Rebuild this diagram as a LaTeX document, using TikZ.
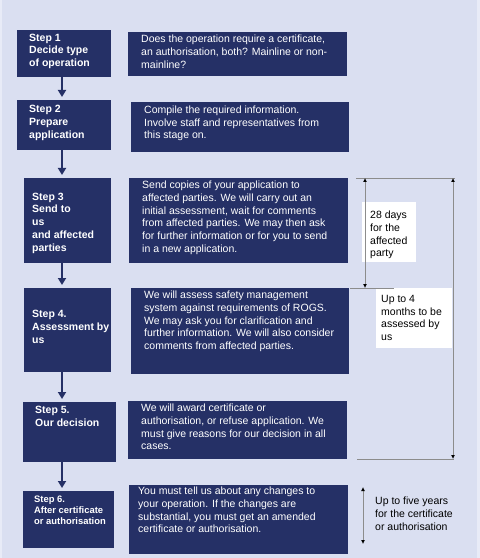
\documentclass[tikz,border=0pt]{standalone}
\usepackage{fontspec}
\setmainfont{Liberation Sans}
\usetikzlibrary{arrows.meta}
\definecolor{navy}{HTML}{253066}
\definecolor{backdrop}{HTML}{DADFF1}
\definecolor{rim}{HTML}{E8EBF7}
\definecolor{rulegrey}{HTML}{8C8C8C}
\tikzset{
  box/.style={fill=navy, inner sep=0pt, anchor=north west},
  steptext/.style={text=white, font=\fontsize{10.5bp}{12.8bp}\selectfont\bfseries, inner sep=0pt, anchor=north west, align=left},
  smallstep/.style={steptext, font=\fontsize{9.4bp}{11bp}\selectfont\bfseries},
  desctext/.style={text=white, font=\fontsize{10.5bp}{12.7bp}\selectfont, inner sep=0pt, anchor=north west, align=left},
  notebox/.style={fill=white, inner sep=0pt, anchor=north west},
  notetext/.style={text=black, font=\fontsize{10.5bp}{12.7bp}\selectfont, inner sep=0pt, anchor=north west, align=left},
  flow/.style={navy, line width=2.5bp, -{Triangle[length=7bp,width=8bp]}, shorten >=3bp},
  span/.style={rulegrey, line width=0.8bp, {Latex[length=4bp,width=4bp,color=black]}-{Latex[length=4bp,width=4bp,color=black]}},
  tick/.style={rulegrey, line width=0.8bp}
}

\begin{document}
\begin{tikzpicture}[x=1bp, y=-1bp]
		%%%%% START %%%%%
		
		\fill[rim] (0, 0) rectangle (480, 558);
		\fill[backdrop] (2, 0) rectangle (477, 558);
		\useasboundingbox (0, 0) rectangle (480, 558);
		
		% step boxes
		\node[box, minimum width=94bp, minimum height=47bp] (s1) at (17, 30) {};
		\node[box, minimum width=94bp, minimum height=50bp] (s2) at (17, 100) {};
		\node[box, minimum width=87bp, minimum height=85bp] (s3) at (24, 178) {};
		\node[box, minimum width=87bp, minimum height=84bp] (s4) at (24, 288) {};
		\node[box, minimum width=93bp, minimum height=60bp] (s5) at (23, 402) {};
		\node[box, minimum width=91bp, minimum height=57bp] (s6) at (23, 491) {};
		
		\node[steptext] (s1t) at (29, 33.5) {Step 1\\Decide type\\of operation};
		\node[steptext] (s2t) at (29, 105) {Step 2\\Prepare\\application};
		\node[steptext] (s3t) at (32, 192.5) {Step 3\\Send to\\us\\and affected\\parties};
		\node[steptext] (s4t) at (32, 310) {Step 4.\\Assessment by\\us};
		\node[steptext] (s5t) at (35, 406) {Step 5.\\Our decision};
		\node[smallstep] (s6t) at (34, 496) {Step 6.\\After certificate\\or authorisation};
		
		% description boxes
		\node[box, minimum width=219bp, minimum height=44bp] (d1) at (128, 32) {};
		\node[box, minimum width=218bp, minimum height=50bp] (d2) at (131, 102) {};
		\node[box, minimum width=219bp, minimum height=85bp] (d3) at (129, 178) {};
		\node[box, minimum width=218bp, minimum height=86bp] (d4) at (131, 288) {};
		\node[box, minimum width=219bp, minimum height=58bp] (d5) at (128, 401) {};
		\node[box, minimum width=219bp, minimum height=69bp] (d6) at (129, 485) {};
		
		\node[desctext] (d1t) at (141, 35) {Does the operation require a certificate,\\an authorisation, both? Mainline or non-\\mainline?};
		\node[desctext] (d2t) at (144, 105.5) {Compile the required information.\\Involve staff and representatives from\\this stage on.};
		\node[desctext] (d3t) at (142, 181) {Send copies of your application to\\affected parties. We will carry out an\\initial assessment, wait for comments\\from affected parties. We may then ask\\for further information or for you to send\\in a new application.};
		\node[desctext] (d4t) at (144, 291) {We will assess safety management\\system against requirements of ROGS.\\We may ask you for clarification and\\further information. We will also consider\\comments from affected parties.};
		\node[desctext] (d5t) at (141, 404) {We will award certificate or\\authorisation, or refuse application. We\\must give reasons for our decision in all\\cases.};
		\node[desctext] (d6t) at (138, 487) {You must tell us about any changes to\\your operation. If the changes are\\substantial, you must get an amended\\certificate or authorisation.};
		
		% flow arrows
		\coordinate (ax) at (62, 0);
		\draw[flow] (s1.south -| ax) -- (s2.north -| ax);
		\draw[flow] (s2.south -| ax) -- (s3.north -| ax);
		\draw[flow] (s3.south -| ax) -- (s4.north -| ax);
		\draw[flow] (s4.south -| ax) -- (s5.north -| ax);
		\draw[flow] (s5.south -| ax) -- (s6.north -| ax);
		
		% time notes
		\node[notebox, minimum width=54bp, minimum height=60bp] (n28) at (362, 202) {};
		\node[notebox, minimum width=76bp, minimum height=60bp] (n4m) at (376, 288) {};
		\node[notetext] (n28t) at (370, 211) {28 days\\for the\\affected\\party};
		\node[notetext] (n4mt) at (381, 295) {Up to 4\\months to be\\assessed by\\us};
		\node[notetext] (n5yt) at (375, 497) {Up to five years\\for the certificate\\or authorisation};
		
		\coordinate (topl) at (356, 178);
		\coordinate (topr) at (455, 178);
		\coordinate (midl) at (350, 288);
		\coordinate (midr) at (394, 288);
		\coordinate (lowl) at (357, 459);
		\coordinate (lowr) at (454, 459);
		\coordinate (a28) at (365, 178);
		\coordinate (b28) at (365, 288);
		\coordinate (a4m) at (453, 178);
		\coordinate (b4m) at (453, 459);
		\coordinate (a5y) at (363, 487);
		\coordinate (b5y) at (363, 544);
		
		\draw[tick] (topl) -- (topr);
		\draw[tick] (midl) -- (midr);
		\draw[tick] (lowl) -- (lowr);
		\draw[span] (a28) -- (b28);
		\draw[span] (a4m) -- (b4m);
		\draw[span] (a5y) -- (b5y);
		
		%%%%% END %%%%%
	\end{tikzpicture}
\end{document}
